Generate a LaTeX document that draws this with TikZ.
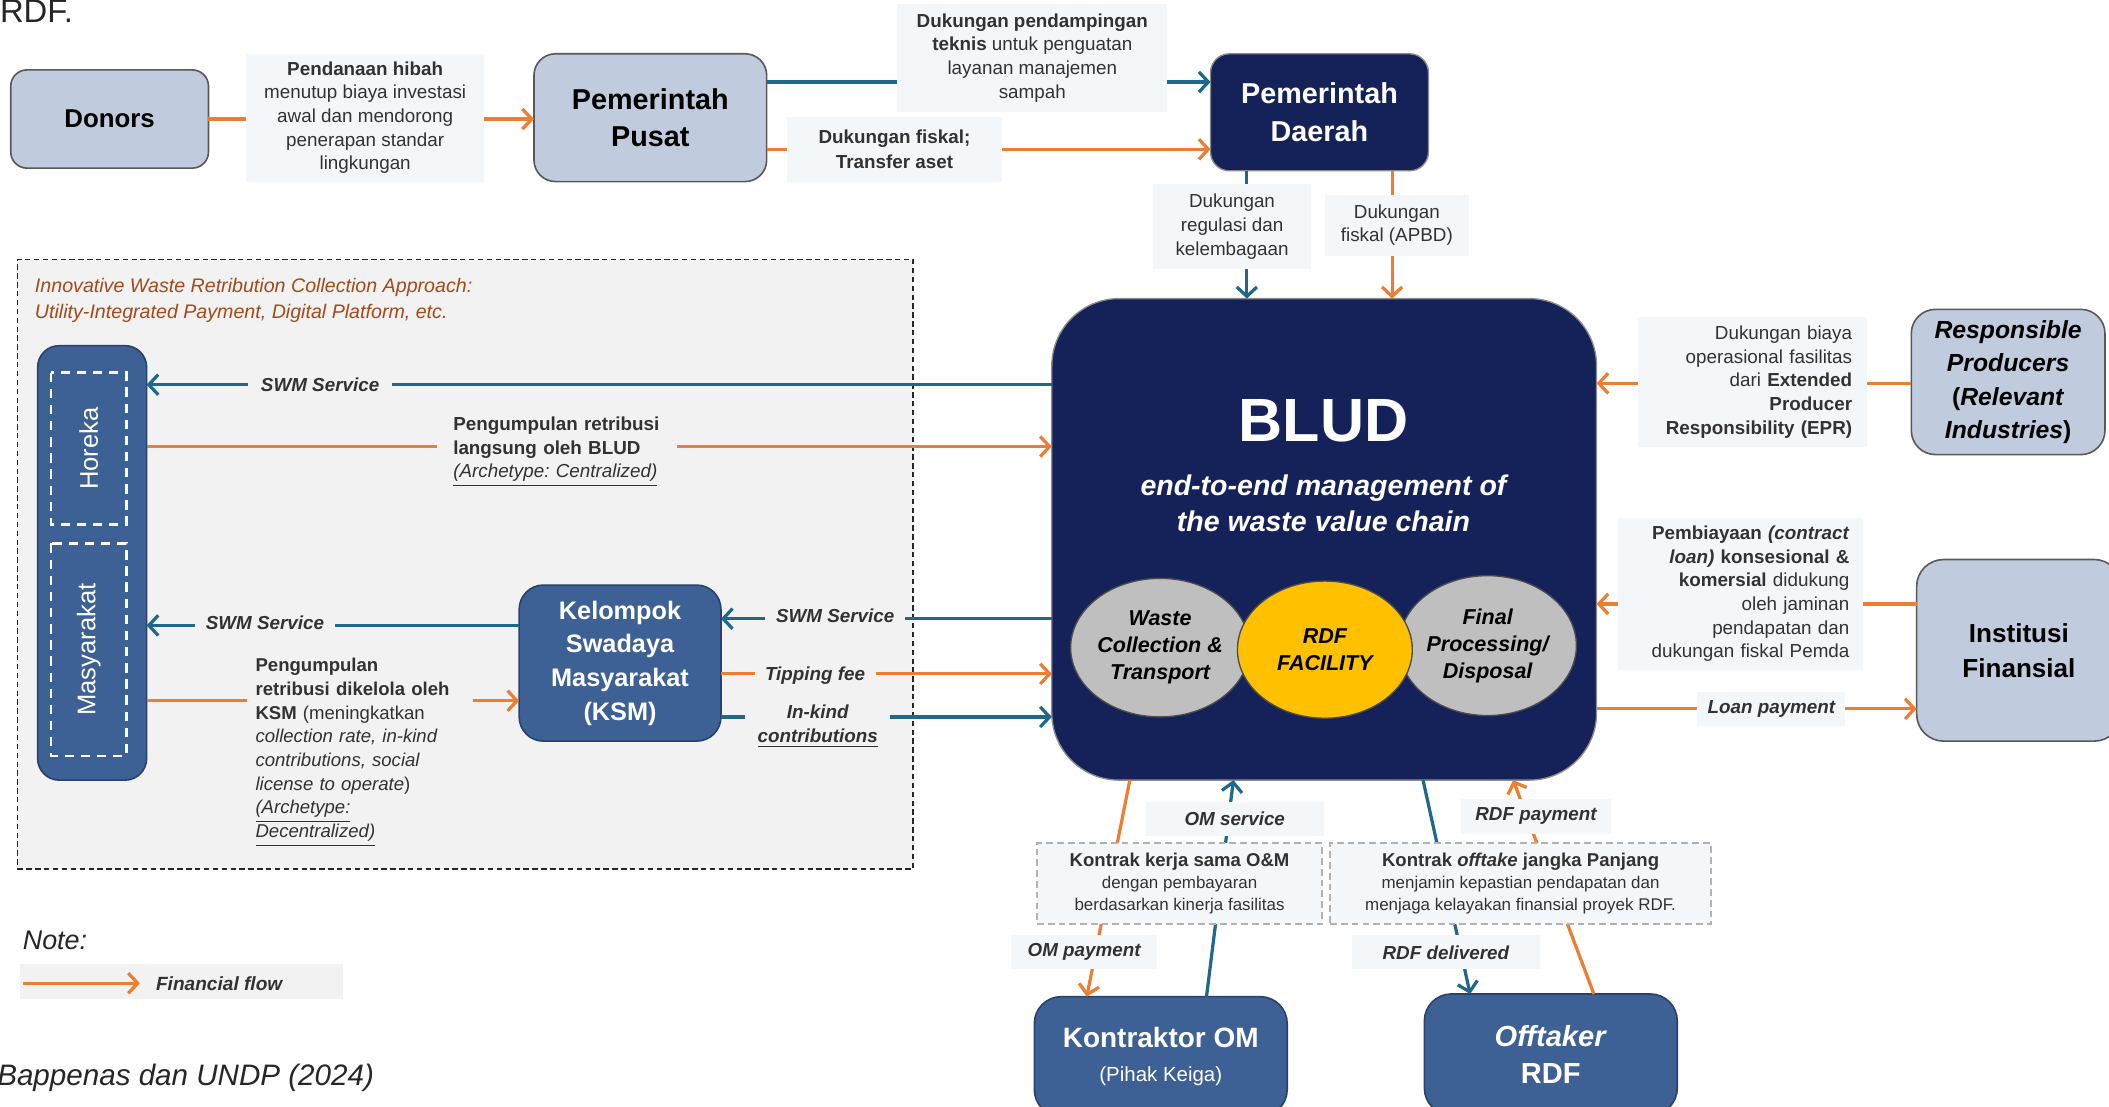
\documentclass[tikz,border=0pt]{standalone}
\usepackage{fontspec}
\setmainfont{Liberation Sans}
\usetikzlibrary{arrows.meta,calc,shapes.geometric}
\definecolor{navy}{RGB}{20,34,89}
\definecolor{steel}{RGB}{61,96,149}
\definecolor{steeld}{RGB}{40,66,108}
\definecolor{lblue}{RGB}{192,204,221}
\definecolor{orng}{RGB}{237,125,49}
\definecolor{tblue}{RGB}{31,104,140}
\definecolor{lblbg}{RGB}{244,247,250}
\definecolor{boxbg}{RGB}{242,242,242}
\definecolor{txt}{RGB}{50,50,50}
\definecolor{brn}{RGB}{163,74,26}
\definecolor{cgray}{RGB}{191,191,191}
\definecolor{ylw}{RGB}{255,192,0}
\newcommand{\fsz}[2]{\fontsize{#1}{#2}\selectfont}
\frenchspacing
\begin{document}
\begin{tikzpicture}[x=0.5pt,y=-0.5pt,
  every node/.style={inner sep=0pt, outer sep=0pt},
  lb/.style={rounded corners=6pt, draw=black!65, line width=0.6pt, fill=lblue, align=center, text=black},
  nv/.style={rounded corners=7pt, draw=black!45, line width=0.5pt, fill=navy, align=center, text=white},
  sb/.style={rounded corners=8pt, draw=steeld, line width=0.6pt, fill=steel, align=center, text=white},
  lbl/.style={fill=lblbg, align=center, text=txt, font=\fsz{7}{8.8}},
  ilbl/.style={fill=boxbg, align=center, text=txt, font=\bfseries\itshape\fsz{7}{8.8}},
  fin/.style={draw=orng, line width=1.2pt, -{Straight Barb[length=3.5pt,width=7.5pt]}},
  svc/.style={draw=tblue, line width=1.2pt, -{Straight Barb[length=3.5pt,width=7.5pt]}},
  ctr/.style={fill=lblbg, draw=black!30, dash pattern=on 2.5pt off 1.5pt, line width=0.7pt, align=center, text=txt},
  circ/.style={ellipse, draw=black!70, line width=0.5pt, align=center, font=\bfseries\itshape\fsz{8}{10}, text=black},
]
\useasboundingbox (0,0) rectangle (1568,823);
\clip (0,0) rectangle (1568,823);
\fill[white] (0,0) rectangle (1568,823);

% header remnant and source
\node[anchor=north west, font=\fsz{12.2}{14}, text=black!85] (rdf) at (0,0) {RDF.};
\node[anchor=west, font=\itshape\fsz{11}{13}, text=black!85] (src) at (-2,801) {Bappenas dan UNDP (2024)};

% left container
\node[draw=black!85, dash pattern=on 2pt off 1.3pt, line width=0.6pt, fill=boxbg, minimum width=333pt, minimum height=226.5pt] (cont) at (346,419.5) {};
\node[anchor=west, align=left, text=brn, font=\itshape\fsz{7.3}{9.5}] (ttl) at (26,223.5) {Innovative Waste Retribution Collection Approach:\\Utility-Integrated Payment, Digital Platform, etc.};

% entities
\node[lb, minimum width=73.5pt, minimum height=36.5pt, font=\bfseries\fsz{9.6}{12}] (donors) at (81.5,88.5) {Donors};
\node[lb, rounded corners=8pt, minimum width=86.5pt, minimum height=47.5pt, font=\bfseries\fsz{10.7}{14}] (pusat) at (483.5,87.5) {Pemerintah\\Pusat};
\node[nv, minimum width=81pt, minimum height=43.5pt, font=\bfseries\fsz{10.7}{14}] (daerah) at (981,83.5) {Pemerintah\\Daerah};

\node[nv, rounded corners=25pt, minimum width=202.5pt, minimum height=179pt] (blud) at (984.5,401) {};
\node[text=white, font=\bfseries\fsz{22.7}{26}] (bludt) at (984,313) {BLUD};
\node[text=white, align=center, font=\bfseries\itshape\fsz{10.6}{13.5}] (bluds) at (984,374) {end-to-end management of\\the waste value chain};
\node[circ, fill=cgray, minimum width=66.5pt, minimum height=51.5pt] (wc) at (862.5,481.5) {Waste\\Collection \&\\Transport};
\node[circ, fill=cgray, minimum width=66pt, minimum height=52pt] (fp) at (1106,480) {Final\\Processing/\\Disposal};
\node[circ, fill=ylw, minimum width=65pt, minimum height=51pt] (rdff) at (985,483) {RDF\\FACILITY};

\node[lb, rounded corners=9pt, minimum width=72pt, minimum height=54pt, font=\bfseries\fsz{9.2}{12.4}] (resp) at (1493,284) {\textit{Responsible}\\\textit{Producers}\\(\textit{Relevant}\\\textit{Industries})};
\node[lb, rounded corners=10pt, minimum width=76pt, minimum height=67.5pt, font=\bfseries\fsz{9.7}{13}] (inst) at (1501,483.5) {Institusi\\Finansial};

\node[sb, minimum width=40.5pt, minimum height=161.5pt] (cust) at (68.5,418.5) {};
\node[draw=white, dash pattern=on 3.5pt off 2.5pt, line width=0.9pt, rotate=90, minimum width=56.5pt, minimum height=28pt, text=white, font=\fsz{9.5}{11}] (horeka) at (66,333.5) {Horeka};
\node[draw=white, dash pattern=on 3.5pt off 2.5pt, line width=0.9pt, rotate=90, minimum width=79pt, minimum height=28pt, text=white, font=\fsz{9.5}{11}] (masy) at (66,483) {Masyarakat};

\node[sb, rounded corners=9pt, minimum width=75pt, minimum height=58pt, font=\bfseries\fsz{9.4}{12.5}] (ksm) at (461,493) {Kelompok\\Swadaya\\Masyarakat\\(KSM)};

\node[sb, rounded corners=10pt, minimum width=94pt, minimum height=44.5pt, font=\fsz{10.4}{12.5}] (kontr) at (863,785.5) {{\bfseries Kontraktor OM}\\{\fsz{7.6}{12.5}(Pihak Keiga)}};
\node[sb, rounded corners=10pt, minimum width=94pt, minimum height=45pt, font=\bfseries\fsz{10.8}{14}] (offt) at (1153,784) {\textit{Offtaker}\\RDF};

% connectors: top
\draw[fin] (donors.east) -- (donors.east -| pusat.west);
\draw[svc] (pusat.east |- 0,61) -- (daerah.west |- 0,61);
\draw[fin] (pusat.east |- 0,111) -- (daerah.west |- 0,111);
\draw[svc] (daerah.south -| 927,0) -- (blud.north -| 927,0);
\draw[fin] (daerah.south -| 1035,0) -- (blud.north -| 1035,0);

% connectors: left
\draw[svc] (blud.west |- 0,286) -- (cust.east |- 0,286);
\draw[fin] (cust.east |- 0,332) -- (blud.west |- 0,332);
\draw[svc] (ksm.west |- 0,465) -- (cust.east |- 0,465);
\draw[fin] (cust.east |- 0,521) -- (ksm.west |- 0,521);
\draw[svc] (blud.west |- 0,460) -- (ksm.east |- 0,460);
\draw[fin] (ksm.east |- 0,501) -- (blud.west |- 0,501);
\draw[svc] (ksm.east |- 0,533) -- (blud.west |- 0,533);

% connectors: right
\draw[fin] (resp.west |- 0,285) -- (blud.east |- 0,285);
\draw[fin] (inst.west |- 0,449) -- (blud.east |- 0,449);
\draw[fin] (blud.east |- 0,527) -- (inst.west |- 0,527);

% connectors: bottom
\draw[fin] ($(blud.south)+(-144.5,0)$) -- ($(kontr.north)+(-55,0)$);
\draw[svc] ($(kontr.north)+(34,0)$) -- ($(blud.south)+(-67.5,0)$);
\draw[svc] ($(blud.south)+(73.5,0)$) -- ($(offt.north)+(-60,0)$);
\draw[fin] ($(offt.north)+(32,0)$) -- ($(blud.south)+(140.5,0)$);

% labels: top
\node[lbl, minimum width=88.5pt, minimum height=47.5pt] (l1) at (271.5,87.5) {\textbf{Pendanaan hibah}\\menutup biaya investasi\\awal dan mendorong\\penerapan standar\\lingkungan};
\node[lbl, minimum width=100.5pt, minimum height=40pt] (l2) at (767.5,43) {\textbf{Dukungan pendampingan}\\\textbf{teknis} untuk penguatan\\layanan manajemen\\sampah};
\node[lbl, minimum width=80pt, minimum height=24pt, font=\bfseries\fsz{7}{9}] (l3) at (665,111) {Dukungan fiskal;\\Transfer aset};
\node[lbl, minimum width=59pt, minimum height=31.5pt] (l4) at (916,168.5) {Dukungan\\regulasi dan\\kelembagaan};
\node[lbl, minimum width=53.5pt, minimum height=22.5pt] (l5) at (1038.5,167.5) {Dukungan\\fiskal (APBD)};

% labels: left
\node[ilbl, minimum width=53.5pt, minimum height=11pt] (s1) at (238,286) {SWM Service};
\node[lbl, fill=boxbg, anchor=west, align=left, text width=77pt, inner xsep=6pt, inner ysep=2pt] (l6) at (325,336) {\textbf{Pengumpulan retribusi}\\\textbf{langsung oleh BLUD}\\\textit{\underline{(Archetype: Centralized)}}};
\node[ilbl, minimum width=52pt, minimum height=11pt] (s2) at (197,463) {SWM Service};
\node[lbl, fill=boxbg, anchor=west, align=left, text width=78pt, inner xsep=3pt, inner ysep=2pt, font=\fsz{6.9}{8.8}] (l7) at (184,559.5) {\textbf{Pengumpulan}\\\textbf{retribusi dikelola oleh}\\\textbf{KSM} (meningkatkan\\\textit{collection rate, in-kind}\\\textit{contributions, social}\\\textit{license to operate})\\\textit{\underline{(Archetype:}}\\\textit{\underline{Decentralized)}}};
\node[ilbl, minimum width=52pt, minimum height=11pt] (s3) at (621,458) {SWM Service};
\node[ilbl, minimum width=45pt, minimum height=11pt] (s4) at (606,502) {Tipping fee};
\node[ilbl, minimum width=54pt, minimum height=18pt] (s5) at (608,540) {In-kind\\\underline{contributions}};

% labels: right
\node[lbl, align=right, text width=74pt, inner xsep=5.5pt, minimum height=48pt] (l8) at (1303,284) {Dukungan biaya\\operasional fasilitas\\dari \textbf{Extended}\\\textbf{Producer}\\\textbf{Responsibility (EPR)}};
\node[lbl, align=right, text width=81pt, inner xsep=5pt, minimum height=56.5pt] (l9) at (1294,441.5) {\textbf{Pembiayaan \textit{(contract}}\\\textbf{\textit{loan)} konsesional \&}\\\textbf{komersial} didukung\\oleh jaminan\\pendapatan dan\\dukungan fiskal Pemda};
\node[ilbl, fill=lblbg, minimum width=55pt, minimum height=12.5pt] (l10) at (1317,527) {Loan payment};

% labels: bottom
\node[ctr, minimum width=106pt, minimum height=30pt, font=\fsz{6.3}{8.2}] (c1) at (877,657) {{\bfseries\fsz{6.9}{8.2}Kontrak kerja sama O\&M}\\dengan pembayaran\\berdasarkan kinerja fasilitas};
\node[ctr, minimum width=141.5pt, minimum height=30pt, font=\fsz{6.3}{8.2}] (c2) at (1130.5,657) {{\bfseries\fsz{6.9}{8.2}Kontrak \textit{offtake} jangka Panjang}\\menjamin kepastian pendapatan dan\\menjaga kelayakan finansial proyek RDF.};
\node[ilbl, fill=lblbg, minimum width=66pt, minimum height=12.5pt] (b1) at (918,609) {OM service};
\node[ilbl, fill=lblbg, minimum width=55.5pt, minimum height=13pt] (b2) at (1142,607) {RDF payment};
\node[ilbl, fill=lblbg, minimum width=54pt, minimum height=12.5pt] (b3) at (806,708) {OM payment};
\node[ilbl, fill=lblbg, minimum width=70pt, minimum height=12.5pt] (b4) at (1075,708) {RDF delivered};

% legend
\node[anchor=west, font=\itshape\fsz{10}{12}, text=black!85] (note) at (17,699) {Note:};
\node[fill=boxbg, minimum width=120pt, minimum height=13pt] (legbox) at (135,730) {};
\coordinate (lg1) at (17,731);
\coordinate (lg2) at (104,731);
\draw[fin] (lg1) -- (lg2);
\node[anchor=west, font=\bfseries\itshape\fsz{7.1}{9}, text=txt] (legt) at (116,731) {Financial flow};
\end{tikzpicture}
\end{document}
